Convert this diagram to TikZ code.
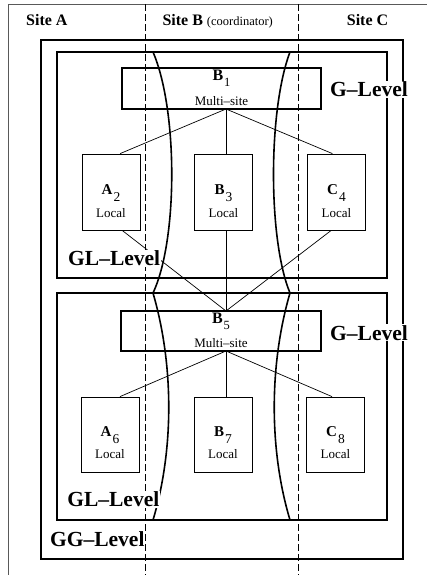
\documentclass[tikz,border=0pt]{standalone}
\usepackage{fontspec}
\setmainfont{Liberation Serif}
\usetikzlibrary{calc}
\begin{document}
\begin{tikzpicture}[x=1pt,y=-1pt,
  levelbox/.style={draw, line width=1.6pt},
  multibox/.style={draw, line width=1.6pt, minimum width=199pt, minimum height=41pt, inner sep=0pt},
  localbox/.style={draw, line width=0.8pt, minimum width=58pt, minimum height=76pt, inner sep=0pt},
  conn/.style={line width=0.7pt},
  sitesep/.style={line width=0.7pt, dash pattern=on 7pt off 3pt},
  bracket/.style={line width=1.6pt},
  levellabel/.style={font=\fontsize{21.5}{22}\selectfont\bfseries, fill=white, inner sep=1pt, anchor=base},
  sitelabel/.style={font=\fontsize{16}{16}\selectfont\bfseries, anchor=base west, inner sep=0pt},
  nodeid/.style={anchor=base, inner sep=0pt, font=\fontsize{15}{15}\selectfont},
  role/.style={anchor=base, inner sep=0pt, font=\fontsize{13}{13}\selectfont},
]
\useasboundingbox (0,0) rectangle (427,575);

% page frame
\draw[black!65, line width=0.9pt] (8.3,575) -- (8.3,4.3) -- (427,4.3);

% site headers
\node[sitelabel] (siteA) at (26,25.7) {Site A};
\node[sitelabel] (siteB) at (162.3,25.7) {Site B {\mdseries\fontsize{12.5}{13}\selectfont (coordinator)}};
\node[sitelabel] (siteC) at (346.7,25.7) {Site C};

% level boxes
\draw[levelbox] (41,40) rectangle (403,559);
\draw[levelbox] (57,52) rectangle (387,278);
\draw[levelbox] (57,293) rectangle (387,520);

% site separators
\draw[sitesep] (145.7,4.3) -- (145.7,575);
\draw[sitesep] (298.3,4.3) -- (298.3,575);

% coordinator region boundaries
\draw[bracket] (153,52) .. controls (178,110) and (178,240) .. (153,293)
                       .. controls (174,365) and (174,450) .. (153,520);
\draw[bracket] (290,52) .. controls (268,110) and (268,240) .. (290,293)
                       .. controls (269,365) and (269,450) .. (290,520);

% multi-site nodes
\node[multibox] (b1) at (221.5,88.5) {};
\node[nodeid, font=\fontsize{16}{16}\selectfont] (b1id) at ($(b1.north)+(0,13.7)$)
  {\textbf{B}\kern1pt\raisebox{-6pt}{\fontsize{12.5}{13}\selectfont 1}};
\node[role] (b1role) at ($(b1.north)+(0,38.7)$) {Multi–site};

\node[multibox, minimum width=200pt, minimum height=40pt] (b5) at (221,331) {};
\node[nodeid, font=\fontsize{16}{16}\selectfont] (b5id) at ($(b5.north)+(0,13)$)
  {\textbf{B}\kern1pt\raisebox{-6pt}{\fontsize{12.5}{13}\selectfont 5}};
\node[role] (b5role) at ($(b5.north)+(0,37.3)$) {Multi–site};

% local nodes, upper level
\node[localbox] (a2) at (111,192) {};
\node[localbox] (b3) at (223.5,192) {};
\node[localbox] (c4) at (336.5,192) {};
\node[nodeid] (a2id) at ($(a2.north)+(0,41)$) {\textbf{A}\kern1pt\raisebox{-7pt}{\fontsize{13.5}{14}\selectfont 2}};
\node[nodeid] (b3id) at ($(b3.north)+(0,41)$) {\textbf{B}\kern1pt\raisebox{-7pt}{\fontsize{13.5}{14}\selectfont 3}};
\node[nodeid] (c4id) at ($(c4.north)+(0,41)$) {\textbf{C}\kern1pt\raisebox{-7pt}{\fontsize{13.5}{14}\selectfont 4}};
\node[role] (a2role) at ($(a2.north)+(0,64)$) {Local};
\node[role] (b3role) at ($(b3.north)+(0,64)$) {Local};
\node[role] (c4role) at ($(c4.north)+(0,64)$) {Local};

% local nodes, lower level
\node[localbox, minimum height=75pt] (a6) at (110,434.5) {};
\node[localbox, minimum height=75pt] (b7) at (223,434.5) {};
\node[localbox, minimum height=75pt] (c8) at (335.5,434.5) {};
\node[nodeid] (a6id) at ($(a6.north)+(0,40)$) {\textbf{A}\kern1pt\raisebox{-7pt}{\fontsize{13.5}{14}\selectfont 6}};
\node[nodeid] (b7id) at ($(b7.north)+(0,40)$) {\textbf{B}\kern1pt\raisebox{-7pt}{\fontsize{13.5}{14}\selectfont 7}};
\node[nodeid] (c8id) at ($(c8.north)+(0,40)$) {\textbf{C}\kern1pt\raisebox{-7pt}{\fontsize{13.5}{14}\selectfont 8}};
\node[role] (a6role) at ($(a6.north)+(0,62)$) {Local};
\node[role] (b7role) at ($(b7.north)+(0,62)$) {Local};
\node[role] (c8role) at ($(c8.north)+(0,62)$) {Local};

% hub points on the multi-site boxes
\coordinate (h1) at (226,109);
\coordinate (h2) at (226,311);
\coordinate (h3) at (226,351);

% links
\draw[conn] (h1) -- ($(a2.north west)!0.655!(a2.north east)$);
\draw[conn] (h1) -- (h1 |- b3.north);
\draw[conn] (h1) -- ($(c4.north west)!0.43!(c4.north east)$);
\draw[conn] ($(a2.south west)!0.69!(a2.south east)$) -- (h2);
\draw[conn] (h2 |- b3.south) -- (h2);
\draw[conn] ($(c4.south west)!0.41!(c4.south east)$) -- (h2);
\draw[conn] (h3) -- ($(a6.north west)!0.67!(a6.north east)$);
\draw[conn] (h3) -- (h3 |- b7.north);
\draw[conn] (h3) -- ($(c8.north west)!0.44!(c8.north east)$);

% level labels
\node[levellabel] (glev1) at (369,97) {G–Level};
\node[levellabel] (glev2) at (369,340) {G–Level};
\node[levellabel] (gllev1) at (114.2,265.7) {GL–Level};
\node[levellabel] (gllev2) at (113.3,506.7) {GL–Level};
\node[levellabel] (gglev) at (97.3,546.7) {GG–Level};
\end{tikzpicture}
\end{document}
